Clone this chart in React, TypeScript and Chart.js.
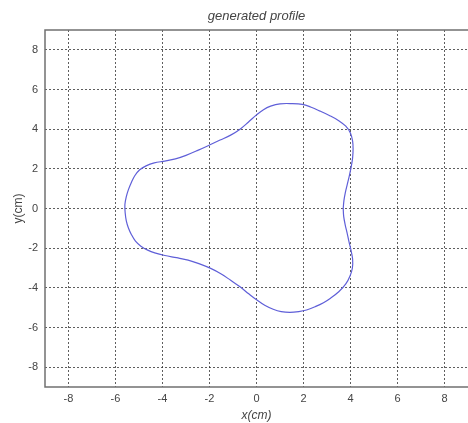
import React, { useEffect, useRef } from "react";
import { Chart, registerables } from "chart.js";

Chart.register(...registerables);

const titleText = "generated profile";
const xLabel = "x(cm)";
const yLabel = "y(cm)";
const tickValues = [-8, -6, -4, -2, 0, 2, 4, 6, 8];

const profileX = [3.69, 3.72, 3.78, 3.86, 3.95, 4.03, 4.09, 4.11, 4.09, 4.0, 3.8, 3.5, 3.12, 2.69, 2.3, 1.95, 1.5, 1.0, 0.6, 0.28, 0, -0.35, -0.7, -1.1, -1.55, -2.0, -2.5, -3.0, -3.45, -3.9, -4.35, -4.7, -4.97, -5.18, -5.33, -5.45, -5.54, -5.6, -5.59, -5.54, -5.45, -5.32, -5.15, -4.92, -4.63, -4.33, -3.9, -3.4, -2.91, -2.45, -1.95, -1.5, -1.1, -0.7, -0.33, 0, 0.35, 0.71, 1.05, 1.42, 1.8, 2.13, 2.5, 2.85, 3.15, 3.5, 3.8, 3.98, 4.08, 4.09, 4.02, 3.93, 3.85, 3.77, 3.71, 3.69];
const profileY = [0.0, 0.4, 0.8, 1.2, 1.65, 2.1, 2.55, 3.0, 3.4, 3.8, 4.15, 4.43, 4.68, 4.92, 5.12, 5.25, 5.29, 5.28, 5.16, 4.97, 4.72, 4.35, 4.0, 3.7, 3.45, 3.2, 2.93, 2.68, 2.5, 2.39, 2.3, 2.15, 1.95, 1.65, 1.3, 0.95, 0.6, 0.2, -0.2, -0.62, -0.98, -1.32, -1.65, -1.9, -2.1, -2.24, -2.37, -2.48, -2.6, -2.78, -3.02, -3.3, -3.62, -3.95, -4.3, -4.6, -4.88, -5.08, -5.2, -5.24, -5.2, -5.12, -4.95, -4.75, -4.52, -4.2, -3.8, -3.4, -3.0, -2.55, -2.1, -1.65, -1.2, -0.8, -0.4, 0.0];

const FONT = "Arial, 'Liberation Sans', sans-serif";

const framePlugin = {
  id: "frameAndTitle",
  afterDraw(chart: any) {
    const { ctx, chartArea } = chart;
    ctx.save();
    ctx.strokeStyle = "#707070";
    ctx.lineWidth = 1.5;
    ctx.beginPath();
    ctx.moveTo(chartArea.right + 2, chartArea.top);
    ctx.lineTo(chartArea.left, chartArea.top);
    ctx.lineTo(chartArea.left, chartArea.bottom);
    ctx.lineTo(chartArea.right + 2, chartArea.bottom);
    ctx.stroke();
    ctx.fillStyle = "#444";
    ctx.font = `italic 13px ${FONT}`;
    ctx.textAlign = "center";
    ctx.textBaseline = "middle";
    ctx.fillText(titleText, (chartArea.left + chartArea.right) / 2, 16);
    ctx.restore();
  },
};

export default function App() {
  const ref = useRef<HTMLCanvasElement>(null);
  useEffect(() => {
    const pts = profileX.map((x, i) => ({ x, y: profileY[i] }));
    const font = { family: FONT, size: 11 };
    const grid = {
      color: "rgba(40,40,40,0.75)",
      lineWidth: 1,
      tickLength: 0,
      drawTicks: false,
    };
    const chart = new Chart(ref.current as HTMLCanvasElement, {
      type: "scatter",
      data: {
        datasets: [
          {
            data: pts,
            showLine: true,
            borderColor: "#5f5fd8",
            borderWidth: 1.2,
            pointRadius: 0,
            tension: 0.35,
            fill: false,
          },
        ],
      },
      options: {
        animation: false,
        responsive: false,
        maintainAspectRatio: false,
        layout: { padding: { left: 0, right: 0, top: 30, bottom: 0 } },
        plugins: {
          legend: { display: false },
          tooltip: { enabled: false },
          title: { display: false },
        },
        scales: {
          x: {
            type: "linear",
            min: -9,
            max: 9,
            afterBuildTicks: (s: any) => {
              s.ticks = tickValues.map((v) => ({ value: v }));
            },
            afterFit: (s: any) => {
              s.height = 36;
            },
            border: { display: false, dash: [2, 2] },
            grid: { ...grid },
            ticks: { color: "#444", font, padding: 5, maxRotation: 0 },
            title: {
              display: true,
              text: xLabel,
              color: "#444",
              font: { family: FONT, size: 12, style: "italic" },
              padding: { top: 0, bottom: 0 },
            },
          },
          y: {
            type: "linear",
            min: -9,
            max: 9,
            afterBuildTicks: (s: any) => {
              s.ticks = tickValues.map((v) => ({ value: v }));
            },
            afterFit: (s: any) => {
              s.width = 45;
            },
            border: { display: false, dash: [2, 2] },
            grid: { ...grid },
            ticks: { color: "#444", font, padding: 7 },
            title: {
              display: true,
              text: yLabel,
              color: "#444",
              font: { family: FONT, size: 12 },
              padding: { top: 11, bottom: 0 },
            },
          },
        },
      },
      plugins: [framePlugin],
    } as any);
    return () => chart.destroy();
  }, []);
  return (
    <div style={{ position: "fixed", left: 0, top: 0, width: 468, height: 423, background: "#fff" }}>
      <canvas ref={ref} width={468} height={423} style={{ display: "block" }} />
    </div>
  );
}
